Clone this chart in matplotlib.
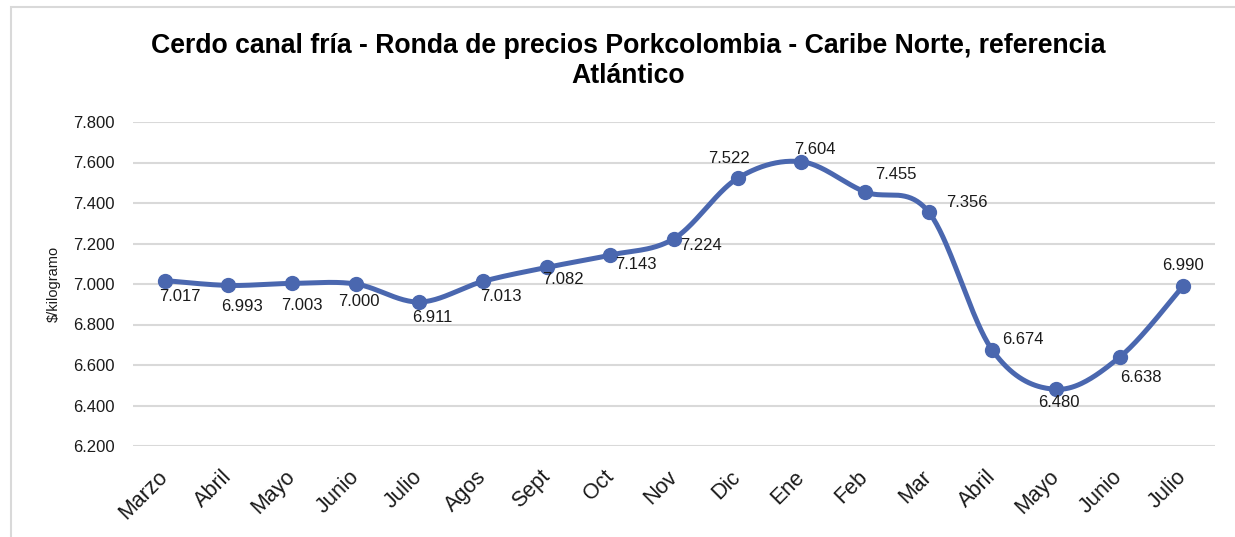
import numpy as np
import matplotlib
matplotlib.use("Agg")
import matplotlib.pyplot as plt
from matplotlib.patches import Rectangle

categories = ["Marzo", "Abril", "Mayo", "Junio", "Julio", "Agos", "Sept", "Oct", "Nov",
              "Dic", "Ene", "Feb", "Mar", "Abril", "Mayo", "Junio", "Julio"]
prices = [7017, 6993, 7003, 7000, 6911, 7013, 7082, 7143, 7224,
          7522, 7604, 7455, 7356, 6674, 6480, 6638, 6990]
yticks = [6200, 6400, 6600, 6800, 7000, 7200, 7400, 7600, 7800]

# label offsets in pixels (dx, dy), dy positive = up
label_offsets = [(15, -16), (14, -21), (10, -22), (3, -17), (13, -15), (18, -15), (16, -12),
                 (26, -9), (27, -7), (-9, 20), (14, 12), (31, 17), (38, 9),
                 (31, 11), (3, -13), (21, -20), (0, 21)]

plt.rcParams['font.family'] = ['Liberation Sans', 'DejaVu Sans']

fig = plt.figure(figsize=(12.35, 5.37), dpi=100)
W, H = 1235, 537
ax = fig.add_axes([133 / W, 1 - 446 / H, (1215 - 133) / W, (446 - 122) / H])

# border of chart area
fig.patches.append(Rectangle((11 / W, -0.1), 1.2, 1 - 7 / H + 0.1, transform=fig.transFigure,
                             fill=False, edgecolor='#d9d9d9', linewidth=1.5))


def catmull_rom(x, y, n=30, tension=0.5):
    xs, ys = [], []
    pts = np.column_stack([x, y]).astype(float)
    P = np.vstack([pts[0], pts, pts[-1]])
    for i in range(1, len(P) - 2):
        p0, p1, p2, p3 = P[i - 1], P[i], P[i + 1], P[i + 2]
        m1 = (p2 - p0) * tension
        m2 = (p3 - p1) * tension
        t = np.linspace(0, 1, n, endpoint=(i == len(P) - 3))
        h00 = 2 * t**3 - 3 * t**2 + 1
        h10 = t**3 - 2 * t**2 + t
        h01 = -2 * t**3 + 3 * t**2
        h11 = t**3 - t**2
        seg = (np.outer(h00, p1) + np.outer(h10, m1) + np.outer(h01, p2) + np.outer(h11, m2))
        xs.append(seg[:, 0])
        ys.append(seg[:, 1])
    return np.concatenate(xs), np.concatenate(ys)


x = np.arange(len(categories))
ysc = np.array(prices) / 200.0
sx, sy = catmull_rom(x, ysc, n=40)
color = '#4A67AF'
ax.plot(sx, sy * 200.0, color=color, linewidth=3.6, solid_capstyle='round', zorder=3)
ax.plot(x, prices, 'o', color=color, markersize=10, zorder=4)

for xi, v, (dx, dy) in zip(x, prices, label_offsets):
    ax.annotate(f"{v/1000:.3f}", (xi, v), xytext=(dx, dy), textcoords='offset pixels',
                ha='center', va='center', fontsize=12, color='#1a1a1a', zorder=5)

ax.set_xlim(-0.5, len(categories) - 0.5)
ax.set_ylim(6200, 7800)
ax.set_yticks(yticks)
ax.set_yticklabels([f"{v/1000:.3f}" for v in yticks], fontsize=12, color='#1a1a1a')
ax.set_xticks(x)
ax.set_xticklabels(categories, rotation=45, ha='right', va='center', rotation_mode='anchor',
                   fontsize=15.5, color='#1a1a1a')
ax.tick_params(axis='both', length=0)
ax.tick_params(axis='y', pad=13)
ax.tick_params(axis='x', pad=20)
ax.grid(axis='y', color='#d9d9d9', linewidth=1.5)
ax.set_axisbelow(True)
for s in ax.spines.values():
    s.set_visible(False)

ax.set_ylabel("$/kilogramo", fontsize=10.5, color='#1a1a1a')
ax.yaxis.set_label_coords(-72 / (1215 - 133), 0.5)

fig.text(628 / W, 1 - 46 / H,
         "Cerdo canal fría - Ronda de precios Porkcolombia - Caribe Norte, referencia",
         ha='center', va='center', fontsize=19.2, fontweight='bold')
fig.text(628 / W, 1 - 76 / H, "Atlántico",
         ha='center', va='center', fontsize=19.2, fontweight='bold')

fig.savefig("out.png", dpi=100)
